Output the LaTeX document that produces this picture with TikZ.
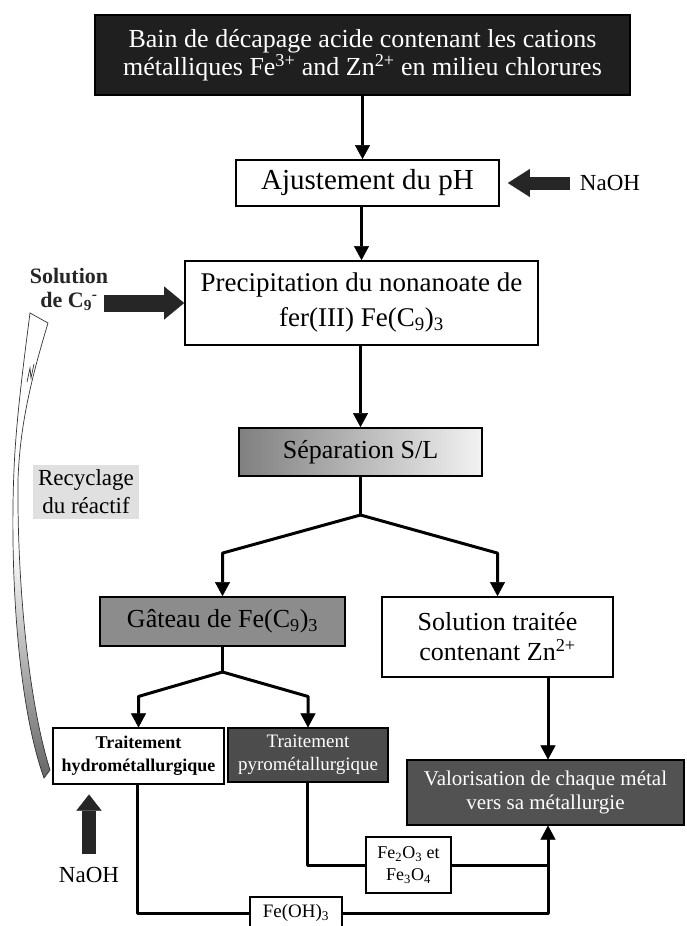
\documentclass[tikz,border=0pt]{standalone}
\usepackage{fontspec}
\setmainfont{Liberation Serif}
\usetikzlibrary{arrows.meta,calc}
\newcommand{\fsz}[2]{\fontsize{#1}{#2}\selectfont}
\begin{document}
\begin{tikzpicture}[x=1pt,y=-1pt,
  box/.style={draw=black, line width=1.8pt, align=center, inner sep=0pt},
  thinbox/.style={box, line width=1.1pt},
  flow/.style={line width=3pt, line join=round, -{Triangle[width=15pt,length=14pt,line width=0.5pt]}},
  link/.style={line width=3pt, line join=round},
  lbl/.style={inner sep=0pt, align=center},
  blk/.style={draw=black!85, line cap=butt}
]
\useasboundingbox (0,0) rectangle (686,926);
\fill[white] (0,0) rectangle (686,926);

% recycling arrow (decorative shape)
\shade[top color=white, bottom color=black!60, middle color=white, draw=black!80, line width=0.7pt]
  (44,778) .. controls (16,700) and (10,560) .. (14,470) .. controls (16,420) and (24,360) .. (30,313)
  -- (48,323)
  .. controls (34,370) and (20,420) .. (18,480) .. controls (17,580) and (28,700) .. (50,770) -- cycle;
\draw[black!80, line width=0.7pt] (27,382) -- (30,368) -- (31,378) -- (34,364);

% nodes
\node[box, fill=black!88, text=white, minimum width=535pt, minimum height=80pt, font=\fsz{26}{28}] (bain) at (362.5,55)
  {Bain de décapage acide contenant les cations\\métalliques Fe\textsuperscript{3+} and Zn\textsuperscript{2+} en milieu chlorures};
\node[box, fill=white, minimum width=263pt, minimum height=46pt, font=\fsz{29}{32}] (ajust) at (367.5,183) {Ajustement du pH};
\node[box, fill=white, minimum width=353pt, minimum height=84pt, font=\fsz{27}{35}] (precip) at (361.5,303)
  {Precipitation du nonanoate de\\fer(III) Fe(C\textsubscript{9})\textsubscript{3}};
\node[box, left color=black!50, right color=black!5, minimum width=243pt, minimum height=48pt, font=\fsz{26}{28}] (sep) at (360.5,452) {Séparation S/L};
\node[box, fill=black!45, minimum width=245pt, minimum height=49pt, font=\fsz{26}{28}] (gat) at (222.5,621.5) {Gâteau de Fe(C\textsubscript{9})\textsubscript{3}};
\node[box, fill=white, minimum width=231pt, minimum height=80pt, font=\fsz{26}{30}] (sol) at (497.5,637) {Solution traitée\\contenant Zn\textsuperscript{2+}};
\node[thinbox, fill=white, minimum width=171pt, minimum height=56pt, font=\fsz{18}{23}\bfseries] (hydro) at (138.5,756) {Traitement\\hydrométallurgique};
\node[thinbox, fill=black!70, text=white, minimum width=160pt, minimum height=54pt, font=\fsz{19}{23}] (pyro) at (308,755) {Traitement\\pyrométallurgique};
\node[thinbox, fill=black!68, text=white, minimum width=277pt, minimum height=65pt, font=\fsz{21}{24}] (valor) at (545.5,792.5) {Valorisation de chaque métal\\vers sa métallurgie};
\node[thinbox, fill=white, minimum width=85pt, minimum height=56pt, font=\fsz{18}{22}] (feox) at (408.5,865) {Fe\textsubscript{2}O\textsubscript{3} et\\Fe\textsubscript{3}O\textsubscript{4}};
\node[thinbox, fill=white, minimum width=92pt, minimum height=32pt, font=\fsz{19}{22}] (feoh) at (296,913) {Fe(OH)\textsubscript{3}};

\node[lbl, font=\fsz{23}{26}] (naoh1) at (610,183) {NaOH};
\node[lbl, font=\fsz{23}{26}] (naoh2) at (89,875) {NaOH};
\node[lbl, font=\fsz{22}{24}\bfseries, text=black!85] (solc9) at (69,289) {Solution\\de C\textsubscript{9}\textsuperscript{-}};
\node[lbl, fill=black!12, inner sep=5pt, font=\fsz{23}{28}] (recy) at (86,492) {Recyclage\\du réactif};

% main flow
\draw[flow] (bain.south) -- (bain.south |- ajust.north);
\draw[flow] (precip.north |- ajust.south) -- (precip.north);
\draw[flow] (sep.north |- precip.south) -- (sep.north);

\coordinate (j1) at (360.5,515);
\draw[link] (sep.south) -- (j1);
\draw[flow] (j1) -- ($(gat.north)+(0,-43)$) -- (gat.north);
\draw[flow] (j1) -- ($(sol.north)+(0,-43)$) -- (sol.north);

\coordinate (j2) at (222.5,672);
\draw[link] (gat.south) -- (j2);
\draw[flow] (j2) -- ($(hydro.north)+(0,-31)$) -- (hydro.north);
\draw[flow] (j2) -- ($(pyro.north)+(0,-31)$) -- (pyro.north);

\coordinate (vx) at (548,0);
\coordinate (px) at (307,0);
\coordinate (hx) at (137,0);
\draw[flow] (sol.south -| vx) -- (valor.north -| vx);
\draw[link] (pyro.south -| px) -- (px |- feox.west) -- (feox.west);
\draw[flow] (feox.east) -- (vx |- feox.east) -- (valor.south -| vx);
\draw[link] (hydro.south -| hx) -- (hx |- feoh.west) -- (feoh.west);
\draw[link] (feoh.east) -- (vx |- feoh.east) -- (vx |- feox.east);

% block arrows
\coordinate (n1t) at ([xshift=-10pt]naoh1.west);
\coordinate (n1h) at ([xshift=8pt]ajust.east);
\draw[blk, line width=13pt, -{Triangle[width=28pt,length=22pt,line width=0.1pt]}] (n1t) -- (n1h);

\coordinate (c9t) at ([xshift=-4pt]solc9.east);
\draw[blk, line width=17pt, -{Triangle[width=33pt,length=20pt,line width=0.1pt]}] (c9t |- precip.west) -- (precip.west);

\coordinate (n2t) at ([yshift=13pt]naoh2.north);
\coordinate (n2h) at ([yshift=-10pt]hydro.south);
\draw[blk, line width=14pt, -{Triangle[width=25pt,length=16pt,line width=0.1pt]}] (n2t) -- (n2t |- n2h);
\end{tikzpicture}
\end{document}
